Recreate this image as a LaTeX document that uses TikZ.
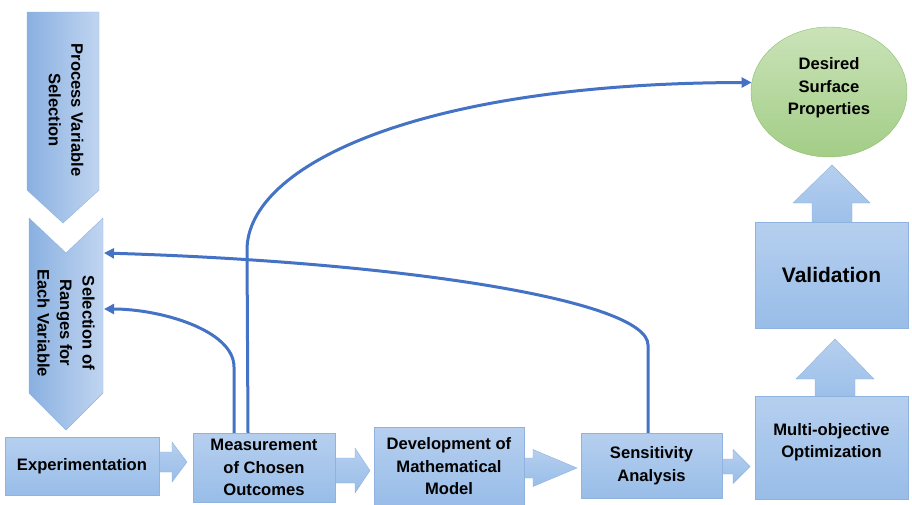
\documentclass[tikz,border=0pt]{standalone}
\usepackage{fontspec}
\setmainfont{Liberation Sans}
\usetikzlibrary{arrows.meta,shapes.geometric}

\definecolor{boxtop}{RGB}{182,207,239}
\definecolor{boxbot}{RGB}{152,189,232}
\definecolor{boxline}{RGB}{143,178,222}
\definecolor{chevleft}{RGB}{138,176,225}
\definecolor{chevright}{RGB}{192,213,240}
\definecolor{linkblue}{RGB}{68,114,196}
\definecolor{ovaltop}{RGB}{202,227,184}
\definecolor{ovalbot}{RGB}{163,205,135}
\definecolor{ovalline}{RGB}{140,190,110}

\newcommand{\labelfont}{\fontsize{16.6}{22.5}\selectfont\bfseries}

\tikzset{
  flowbox/.style={draw=boxline, top color=boxtop, bottom color=boxbot, align=center, font=\labelfont, inner sep=2pt},
  blockarrow/.style={draw=boxline, top color=boxtop, bottom color=boxbot},
  chevron/.style={draw=boxline, left color=chevleft, right color=chevright},
  chevtext/.style={rotate=-90, align=center, font=\labelfont},
  oval/.style={ellipse, draw=ovalline, top color=ovaltop, bottom color=ovalbot, align=center, font=\labelfont, inner sep=0pt},
  link/.style={draw=linkblue, line width=3pt, -{Triangle[length=10pt,width=10pt]}}
}

\begin{document}
\begin{tikzpicture}[x=1pt,y=-1pt]
  \useasboundingbox (0,0) rectangle (912,504);

  % left column
  \draw[chevron] (27,12) -- (99,12) -- (99,190) -- (63,223) -- (27,190) -- cycle;
  \draw[chevron] (29,218) -- (66,253) -- (103,218) -- (103,393) -- (66,430) -- (29,393) -- cycle;
  \node[chevtext] (pvs) at (66,110) {Process Variable\\Selection};
  \node[chevtext] (srv) at (66,323) {Selection of\\Ranges for\\Each Variable};
  \coordinate (srv-in1) at (104,253);
  \coordinate (srv-in2) at (104,309);

  % block arrows, drawn under the boxes
  \foreach \xa/\xb/\xc/\ym/\sh/\hh in {150/172/187/462/10/20, 325/355/370/470.5/12.5/22.5,
      515/533/577/468/10/18.5, 712/733/750/466.5/7.5/17}
    \draw[blockarrow] (\xa,\ym-\sh) -- (\xb,\ym-\sh) -- (\xb,\ym-\hh) -- (\xc,\ym)
      -- (\xb,\ym+\hh) -- (\xb,\ym+\sh) -- (\xa,\ym+\sh) -- cycle;
  \foreach \xl/\xr/\yb/\yh/\hl/\hr/\xt/\yt in {815/855/405/379/796/874/835/339,
      812/852/232/203/793/870/832/165}
    \draw[blockarrow] (\xl,\yb) -- (\xl,\yh) -- (\hl,\yh) -- (\xt,\yt) -- (\hr,\yh)
      -- (\xr,\yh) -- (\xr,\yb) -- cycle;

  % bottom row
  \node[flowbox, minimum width=154, minimum height=58] (exp) at (82,466) {Experimentation};
  \node[flowbox, minimum width=142, minimum height=69] (meas) at (264,467.5) {Measurement\\of Chosen\\Outcomes};
  \node[flowbox, minimum width=150, minimum height=79] (dev) at (449,466.5) {Development of\\Mathematical\\Model};
  \node[flowbox, minimum width=141, minimum height=65] (sens) at (651.5,465.5) {Sensitivity\\Analysis};
  \node[flowbox, minimum width=153, minimum height=103, text depth=14pt] (multi) at (831.5,447.5) {Multi-objective\\Optimization};

  % right column
  \node[flowbox, minimum width=153, minimum height=106, font=\fontsize{21}{25}\selectfont\bfseries] (valid) at (831.5,275) {Validation};
  \node[oval, minimum width=156, minimum height=130, text depth=12pt] (dsp) at (829,92) {Desired\\Surface\\Properties};

  % feedback links
  \draw[link] ([xshift=-16pt]meas.north) -- (247,250) .. controls (247,165) and (420,83) .. (dsp.173);
  \draw[link] ([xshift=-30pt]meas.north) -- (234,367) .. controls (234,330) and (160,309) .. (srv-in2);
  \draw[link] ([xshift=-3.5pt]sens.north) -- (648,345) .. controls (648,300) and (400,262) .. (srv-in1);
\end{tikzpicture}
\end{document}
